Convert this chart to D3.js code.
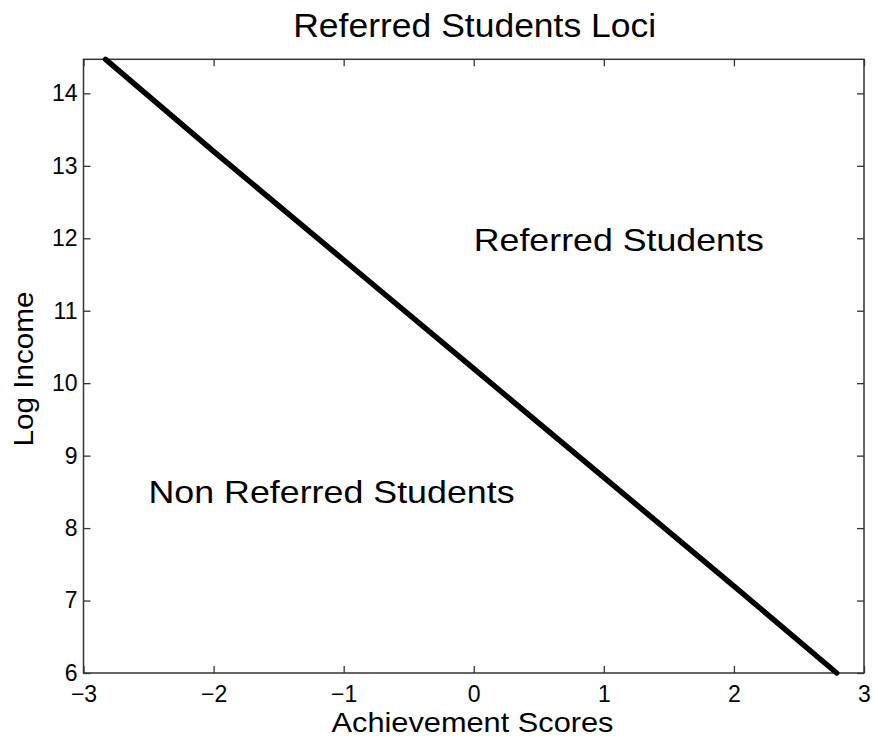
<!DOCTYPE html>
<html>
<head>
<meta charset="utf-8">
<script src="https://cdn.jsdelivr.net/npm/d3@7"></script>
<style>
  html, body { margin: 0; padding: 0; background: #fff; overflow: hidden; }
  svg { display: block; font-family: "Liberation Sans", Arial, sans-serif; }
</style>
</head>
<body>
<svg id="chart" width="878" height="746"></svg>
<script>
// Boundary between referred and non-referred students
const scores = [-2.83, -2, -1, 0, 1, 2, 2.79];
const logIncome = [14.47, 13.2, 11.7, 10.2, 8.7, 7.2, 6.0];
const xTicks = [-3, -2, -1, 0, 1, 2, 3];
const yTicks = [6, 7, 8, 9, 10, 11, 12, 13, 14];
const regionLabels = [
  { text: "Referred Students", x: 0, y: 11.83, len: 290 },
  { text: "Non Referred Students", x: -2.5, y: 8.34, len: 366 }
];

const svg = d3.select("#chart");
const m = { left: 83.5, right: 864, top: 59.3, bottom: 673 };

const x = d3.scaleLinear().domain([-3, 3]).range([m.left, m.right]);
const y = d3.scaleLinear().domain([6, 14.47]).range([m.bottom, m.top]);

const tickLen = 7;
const axisStyle = g => {
  g.select(".domain").remove();
  g.selectAll(".tick line").attr("stroke", "#333").attr("stroke-width", 1.3);
  g.selectAll(".tick text").attr("font-size", 23).attr("fill", "#000")
    .attr("font-family", "Liberation Sans, Arial, sans-serif");
};

// bottom axis (ticks point inward)
svg.append("g").attr("transform", `translate(0,${m.bottom})`)
  .call(d3.axisBottom(x).tickValues(xTicks).tickSize(-tickLen).tickPadding(13)
    .tickFormat(d => d < 0 ? "\u2212" + Math.abs(d) : d))
  .call(axisStyle);
// top mirror ticks
svg.append("g").attr("transform", `translate(0,${m.top})`)
  .call(d3.axisTop(x).tickValues(xTicks).tickSize(-tickLen).tickFormat(""))
  .call(axisStyle);
// left axis
svg.append("g").attr("transform", `translate(${m.left},0)`)
  .call(d3.axisLeft(y).tickValues(yTicks).tickSize(-tickLen).tickPadding(6))
  .call(axisStyle);
// right mirror ticks
svg.append("g").attr("transform", `translate(${m.right},0)`)
  .call(d3.axisRight(y).tickValues(yTicks).tickSize(-tickLen).tickFormat(""))
  .call(axisStyle);

// plot frame
svg.append("rect")
  .attr("x", m.left).attr("y", m.top)
  .attr("width", m.right - m.left).attr("height", m.bottom - m.top)
  .attr("fill", "none").attr("stroke", "#333").attr("stroke-width", 1.5);

// boundary line
const pts = scores.map((s, i) => [s, logIncome[i]]);
svg.append("path")
  .datum(pts)
  .attr("fill", "none")
  .attr("stroke", "#000")
  .attr("stroke-width", 5.5)
  .attr("stroke-linecap", "round")
  .attr("d", d3.line().x(d => x(d[0])).y(d => y(d[1])));

// region labels
svg.selectAll(".region").data(regionLabels).enter().append("text")
  .attr("x", d => x(d.x)).attr("y", d => y(d.y))
  .attr("font-size", 32).attr("fill", "#000")
  .attr("textLength", d => d.len).attr("lengthAdjust", "spacingAndGlyphs")
  .text(d => d.text);

// title and axis labels
svg.append("text").attr("x", 474.7).attr("y", 37)
  .attr("text-anchor", "middle").attr("font-size", 33)
  .attr("textLength", 363).attr("lengthAdjust", "spacingAndGlyphs")
  .text("Referred Students Loci");
svg.append("text").attr("x", 472.5).attr("y", 732)
  .attr("text-anchor", "middle").attr("font-size", 28)
  .attr("textLength", 282).attr("lengthAdjust", "spacingAndGlyphs")
  .text("Achievement Scores");
svg.append("text")
  .attr("transform", `translate(33,369) rotate(-90)`)
  .attr("text-anchor", "middle").attr("font-size", 28)
  .attr("textLength", 155).attr("lengthAdjust", "spacingAndGlyphs")
  .text("Log Income");
</script>
</body>
</html>
